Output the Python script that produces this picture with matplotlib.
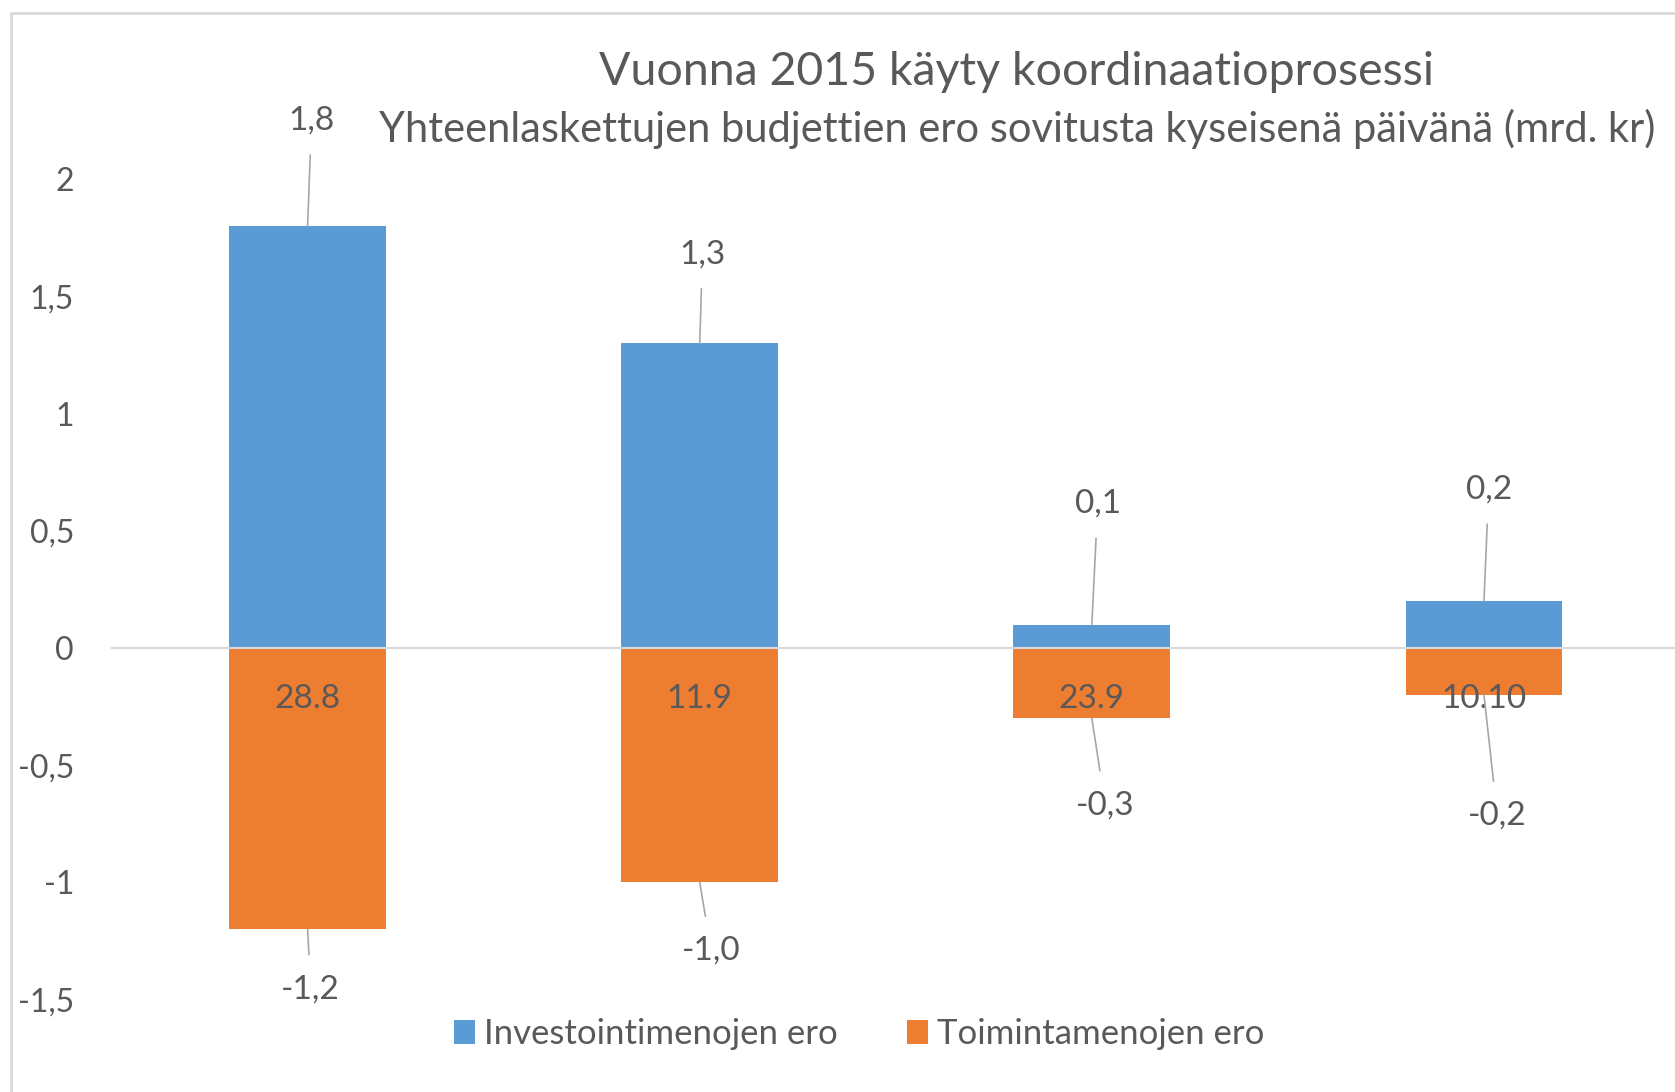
import matplotlib.pyplot as plt
import numpy as np
from matplotlib.patches import Rectangle

plt.rcParams['font.family'] = ['Lato', 'DejaVu Sans']

# data
paivat = ['28.8', '11.9', '23.9', '10.10']
investointi = [1.8, 1.3, 0.1, 0.2]
toiminta = [-1.2, -1.0, -0.3, -0.2]
investointi_txt = ['1,8', '1,3', '0,1', '0,2']
toiminta_txt = ['-1,2', '-1,0', '-0,3', '-0,2']
sarjat = ['Investointimenojen ero', 'Toimintamenojen ero']

# label offsets (moved by hand in the original)
inv_dx = [0.01, 0.007, 0.015, 0.012]
inv_dy = [0.45, 0.38, 0.515, 0.475]
toi_dx = [0.008, 0.029, 0.034, 0.034]
toi_dy = [-0.255, -0.29, -0.37, -0.515]

sininen = '#5B9BD5'
oranssi = '#ED7D31'
harmaa = '#595959'
fs = 24

fig = plt.figure(figsize=(16.75, 10.92), dpi=100)
ax = fig.add_axes([0.0666, 0.0846, 0.9364, 0.8372])

x = np.arange(len(paivat))
ax.bar(x, investointi, width=0.4, color=sininen, label=sarjat[0], zorder=1)
ax.bar(x, toiminta, width=0.4, color=oranssi, label=sarjat[1], zorder=1)

ax.set_xlim(-0.5, 3.5)
ax.set_ylim(-1.5, 2.4)
ax.set_yticks([-1.5, -1, -0.5, 0, 0.5, 1, 1.5, 2])
ax.set_yticklabels(['-1,5', '-1', '-0,5', '0', '0,5', '1', '1,5', '2'])

for s in ['top', 'right', 'left']:
    ax.spines[s].set_visible(False)
ax.spines['bottom'].set_position(('data', 0))
ax.spines['bottom'].set_color('#d9d9d9')
ax.spines['bottom'].set_linewidth(1.5)
ax.set_axisbelow(False)
ax.set_xticks(x)
ax.set_xticklabels(paivat)
ax.tick_params(axis='x', length=0, pad=37, labelsize=fs, labelcolor=harmaa)
ax.tick_params(axis='y', length=0, pad=27, labelsize=fs - 1, labelcolor=harmaa)
for t in ax.get_xticklabels():
    t.set_verticalalignment('center')
    t.set_zorder(5)

viiva = dict(arrowstyle='-', color='#a6a6a6', lw=1.2, shrinkA=12, shrinkB=0)
for i in range(len(paivat)):
    ax.annotate(investointi_txt[i], xy=(x[i], investointi[i]),
                xytext=(x[i] + inv_dx[i], investointi[i] + inv_dy[i]),
                ha='center', va='center', fontsize=fs, color=harmaa,
                arrowprops=viiva)
    ax.annotate(toiminta_txt[i], xy=(x[i], toiminta[i]),
                xytext=(x[i] + toi_dx[i], toiminta[i] + toi_dy[i]),
                ha='center', va='center', fontsize=fs, color=harmaa,
                arrowprops=viiva)

fig.text(0.607, 0.9345, 'Vuonna 2015 käyty koordinaatioprosessi',
         ha='center', va='center', fontsize=33.5, color=harmaa)
fig.text(0.607, 0.8819, 'Yhteenlaskettujen budjettien ero sovitusta kyseisenä päivänä (mrd. kr)',
         ha='center', va='center', fontsize=30, color=harmaa)

leg = fig.legend(loc='center', bbox_to_anchor=(0.513, 0.053), ncol=2, frameon=False,
                 fontsize=fs + 1, handlelength=0.6, handleheight=0.65, handletextpad=0.25,
                 columnspacing=2.0)
for t in leg.get_texts():
    t.set_color(harmaa)

fig.patches.append(Rectangle((11 / 1675, -0.1), 1.2, 1.1 - 13 / 1092, fill=False,
                             edgecolor='#d9d9d9', lw=2, transform=fig.transFigure))

fig.savefig('out.png', dpi=100)
